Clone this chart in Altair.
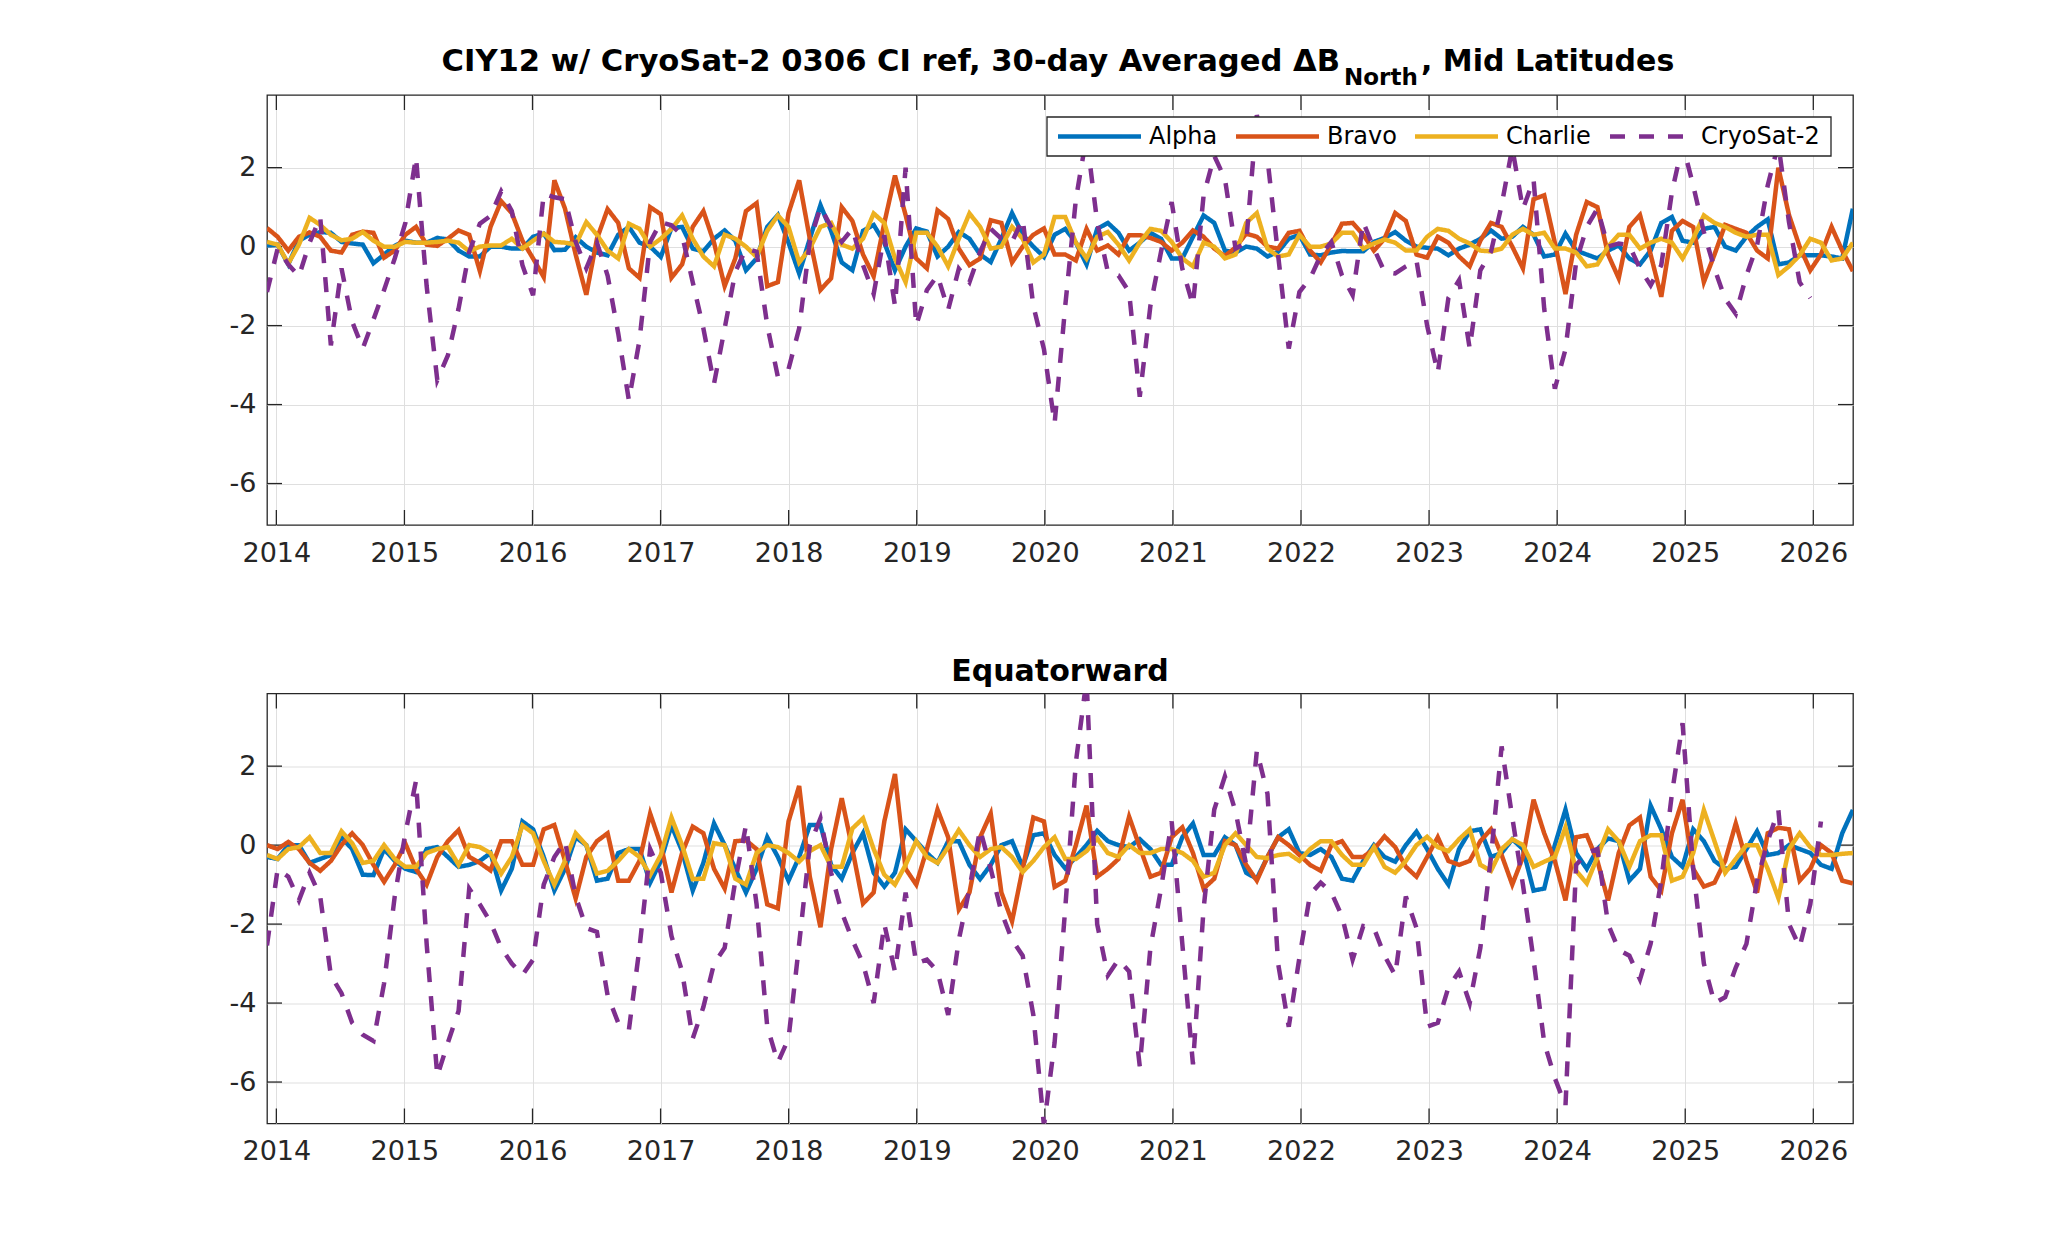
import altair as alt
import pandas as pd

# ---------------- data ----------------
T0 = 2013.927          # first 30-day bin (decimal year)
DT = 0.0831            # bin spacing in years
SERIES = ["Alpha", "Bravo", "Charlie", "CryoSat-2"]
COLORS = ["#0072BD", "#D95319", "#EDB120", "#7E2F8E"]
YEAR_TICKS = list(range(2014, 2027))
Y_TICKS = [-6, -4, -2, 0, 2]

TOP_ALPHA = [0.03, 0.05, -0.45, 0.15, 0.3, 0.37, 0.35, 0.12, 0.08, 0.05,
             -0.42, -0.2, 0.02, 0.15, 0.1, 0.1, 0.22, 0.18, -0.1, -0.25,
             -0.25, 0.0, 0.0, -0.05, -0.05, 0.25, 0.33, -0.09, -0.08, 0.24,
             0.0, -0.15, -0.22, 0.3, 0.5, 0.1, 0.0, -0.26, 0.47, 0.5,
             -0.05, -0.12, 0.2, 0.41, 0.15, -0.6, -0.3, 0.5, 0.8, 0.1,
             -0.68, 0.2, 1.05, 0.4, -0.4, -0.6, 0.4, 0.55, 0.1, -0.6,
             0.0, 0.46, 0.38, -0.25, 0.0, 0.37, 0.2, -0.2, -0.39, 0.2,
             0.85, 0.3, 0.0, -0.26, 0.3, 0.45, 0.1, -0.45, 0.45, 0.6,
             0.35, -0.1, 0.1, 0.35, 0.2, -0.3, -0.3, 0.25, 0.79, 0.6,
             -0.1, -0.15, 0.0, -0.05, -0.25, -0.13, 0.2, 0.3, -0.2, -0.22,
             -0.15, -0.11, -0.12, -0.12, 0.12, 0.22, 0.37, 0.15, 0.0, -0.03,
             -0.05, -0.22, -0.05, 0.05, 0.2, 0.41, 0.2, 0.25, 0.5, 0.3,
             -0.25, -0.2, 0.33, -0.1, -0.2, -0.3, -0.1, 0.03, -0.3, -0.45,
             -0.1, 0.6, 0.75, 0.15, 0.1, 0.45, 0.5, 0.0, -0.1, 0.25,
             0.5, 0.69, -0.45, -0.4, -0.22, -0.22, -0.22, -0.25, -0.3, 0.96]

TOP_BRAVO = [0.47, 0.25, -0.1, 0.25, 0.36, 0.25, -0.1, -0.15, 0.3, 0.38,
             0.35, -0.28, -0.1, 0.3, 0.5, 0.05, 0.02, 0.2, 0.41, 0.3,
             -0.62, 0.5, 1.15, 0.85, 0.15, -0.3, -0.77, 1.68, 0.96, -0.2,
             -1.22, 0.2, 0.95, 0.6, -0.55, -0.79, 1.0, 0.82, -0.79, -0.45,
             0.5, 0.9, 0.1, -1.0, -0.3, 0.9, 1.1, -1.0, -0.9, 0.85,
             1.68, 0.2, -1.1, -0.8, 1.0, 0.65, -0.2, -0.75, 0.6, 1.8,
             0.8, -0.3, -0.55, 0.92, 0.7, -0.05, -0.47, -0.3, 0.67, 0.6,
             -0.4, 0.0, 0.3, 0.46, -0.2, -0.2, -0.35, 0.45, -0.1, 0.03,
             -0.2, 0.29, 0.29, 0.22, 0.12, -0.1, 0.1, 0.41, 0.25, -0.05,
             -0.24, -0.02, 0.33, 0.25, 0.0, -0.05, 0.35, 0.4, -0.1, -0.4,
             0.05, 0.58, 0.6, 0.3, -0.1, 0.2, 0.85, 0.65, -0.2, -0.28,
             0.25, 0.1, -0.25, -0.5, 0.15, 0.6, 0.5, 0.0, -0.55, 1.2,
             1.3, 0.1, -1.2, 0.3, 1.13, 1.0, -0.2, -0.8, 0.5, 0.8,
             -0.2, -1.27, 0.4, 0.65, 0.5, -0.9, -0.2, 0.55, 0.45, 0.35,
             -0.1, -0.3, 2.0, 0.8, 0.0, -0.6, -0.2, 0.5, -0.1, -0.62]

TOP_CHARLIE = [0.12, 0.05, -0.43, 0.05, 0.73, 0.55, 0.3, 0.16, 0.2, 0.37,
               0.15, 0.0, 0.0, 0.12, 0.1, 0.1, 0.12, 0.15, 0.1, -0.12,
               0.0, 0.03, 0.03, 0.2, -0.05, 0.15, 0.33, 0.12, 0.1, 0.05,
               0.62, 0.3, -0.1, -0.3, 0.58, 0.45, 0.0, 0.2, 0.45, 0.79,
               0.2, -0.25, -0.5, 0.3, 0.2, 0.0, -0.26, 0.4, 0.79, 0.5,
               -0.4, -0.05, 0.5, 0.6, 0.05, -0.05, 0.2, 0.84, 0.6, -0.3,
               -0.9, 0.35, 0.35, 0.0, -0.5, 0.2, 0.84, 0.5, -0.05, 0.0,
               0.5, 0.2, -0.4, -0.2, 0.75, 0.75, 0.1, -0.3, 0.25, 0.37,
               0.05, -0.35, 0.1, 0.45, 0.4, 0.12, -0.3, -0.5, 0.1, 0.0,
               -0.3, -0.2, 0.6, 0.85, -0.05, -0.25, -0.2, 0.3, 0.0, 0.0,
               0.08, 0.35, 0.35, -0.05, 0.08, 0.18, 0.1, -0.1, -0.1, 0.25,
               0.45, 0.4, 0.2, 0.08, -0.1, -0.12, -0.05, 0.3, 0.45, 0.3,
               0.35, -0.05, -0.05, -0.15, -0.5, -0.45, 0.0, 0.3, 0.3, -0.05,
               0.1, 0.2, 0.1, -0.3, 0.2, 0.79, 0.6, 0.5, 0.35, 0.25,
               0.3, 0.3, -0.72, -0.5, -0.22, 0.2, 0.1, -0.35, -0.3, 0.1]

TOP_CRYO = [-1.15, -0.05, -0.45, -0.75, 0.1, 0.75, -2.5, -0.55, -1.9, -2.58,
            -1.85, -1.1, -0.3, 0.6, 2.27, -1.0, -3.38, -2.75, -1.57, -0.13,
            0.58, 0.78, 1.4, 0.9, -0.47, -1.23, 1.34, 1.25, 1.2, 0.12,
            -0.55, 0.1, -0.73, -2.2, -3.89, -2.37, 0.12, 0.62, 0.54, 0.29,
            -0.9, -2.07, -3.47, -2.07, -0.64, -0.05, -0.13, -1.99, -3.3, -3.1,
            -2.07, 0.12, 1.0, 0.5, 0.12, 0.45, -0.47, -1.2, 0.29, -1.5,
            2.0, -2.0, -1.1, -0.73, -1.6, -0.56, -0.9, -0.13, 0.45, 0.2,
            0.12, 0.7, -1.5, -2.6, -4.48, -1.5, 1.2, 2.8, 0.62, -0.64,
            -0.73, -1.15, -3.8, -1.5, -0.13, 1.13, -0.56, -1.48, 1.3, 2.3,
            1.72, -0.05, 0.1, 3.33, 2.23, -0.22, -2.58, -1.15, -0.81, -0.22,
            0.12, -0.73, -1.23, 0.62, -0.05, -0.64, -0.68, -0.5, -0.35, -2.0,
            -3.2, -1.3, -0.85, -2.58, -0.6, -0.13, 1.05, 2.5, 0.95, 1.7,
            -1.57, -3.6, -2.6, -0.39, 0.5, 0.96, 0.0, 0.08, 0.03, -0.56,
            -0.98, -0.47, 1.38, 2.6, 1.55, 0.37, -0.56, -1.32, -1.7, -0.73,
            0.03, 1.55, 2.6, 0.62, -0.9, -1.3]

BOT_ALPHA = [-0.3, -0.35, 0.0, 0.0, -0.45, -0.35, -0.25, 0.2, -0.1, -0.75,
             -0.76, -0.1, -0.4, -0.6, -0.68, -0.1, -0.05, -0.3, -0.55, -0.5,
             -0.4, -0.2, -1.15, -0.6, 0.6, 0.4, -0.3, -1.15, -0.6, 0.2,
             0.0, -0.9, -0.85, -0.2, -0.1, -0.1, -0.95, -0.4, 0.5, -0.15,
             -1.15, -0.45, 0.55, 0.0, -0.6, -1.2, -0.6, 0.2, -0.3, -0.9,
             -0.3, 0.51, 0.51, -0.5, -0.85, -0.2, 0.3, -0.7, -1.05, -0.7,
             0.4, 0.1, -0.2, -0.45, 0.1, 0.1, -0.5, -0.86, -0.5, 0.0,
             0.1, -0.55, 0.25, 0.3, -0.25, -0.59, -0.3, 0.0, 0.36, 0.1,
             0.0, -0.05, 0.15, -0.1, -0.5, -0.5, 0.2, 0.55, -0.25, -0.25,
             0.2, 0.0, -0.7, -0.85, -0.3, 0.2, 0.4, -0.2, -0.25, -0.1,
             -0.3, -0.85, -0.9, -0.4, 0.0, -0.3, -0.42, 0.0, 0.34, -0.1,
             -0.6, -1.0, -0.1, 0.35, 0.4, -0.3, -0.2, 0.15, -0.1, -1.15,
             -1.1, 0.0, 0.9, -0.2, -0.6, -0.1, 0.17, 0.1, -0.9, -0.6,
             1.0, 0.4, -0.3, -0.55, 0.4, 0.1, -0.4, -0.6, -0.55, -0.1,
             0.35, -0.25, -0.2, 0.0, -0.1, -0.2, -0.5, -0.6, 0.3, 0.89]

BOT_BRAVO = [0.0, -0.1, 0.08, -0.1, -0.45, -0.65, -0.4, 0.0, 0.3, 0.0,
             -0.5, -0.93, -0.5, 0.04, -0.6, -1.0, -0.3, 0.1, 0.38, -0.3,
             -0.45, -0.64, 0.1, 0.1, -0.5, -0.5, 0.4, 0.51, -0.4, -1.35,
             -0.3, 0.1, 0.3, -0.9, -0.9, -0.4, 0.8, 0.0, -1.2, -0.2,
             0.47, 0.3, -0.6, -1.1, 0.1, 0.12, -0.1, -1.5, -1.6, 0.6,
             1.5, -0.8, -2.08, -0.1, 1.19, -0.1, -1.48, -1.2, 0.6, 1.8,
             -0.6, -1.0, -0.1, 0.9, 0.2, -1.63, -1.2, 0.2, 0.8, -1.2,
             -1.93, -0.6, 0.7, 0.6, -1.06, -0.9, 0.0, 1.0, -0.8, -0.6,
             -0.35, 0.72, -0.05, -0.8, -0.7, 0.2, 0.45, -0.2, -1.1, -0.85,
             0.1, 0.0, -0.5, -0.9, -0.3, 0.2, 0.0, -0.25, -0.5, -0.65,
             0.0, 0.1, -0.3, -0.3, -0.1, 0.22, -0.05, -0.55, -0.8, -0.3,
             0.2, -0.4, -0.5, -0.4, 0.1, 0.4, -0.25, -1.0, -0.3, 1.15,
             0.3, -0.4, -1.4, 0.2, 0.25, -0.4, -1.4, -0.2, 0.5, 0.7,
             -0.8, -1.15, 0.3, 1.15, -0.6, -1.05, -0.95, -0.4, 0.55, -0.4,
             -1.2, 0.3, 0.44, 0.4, -0.9, -0.6, 0.0, -0.2, -0.9, -0.97]

BOT_CHARLIE = [-0.25, -0.35, -0.1, -0.05, 0.2, -0.2, -0.2, 0.35, 0.05, -0.45,
               -0.4, 0.0, -0.35, -0.55, -0.55, -0.2, -0.1, -0.05, -0.5, 0.0,
               -0.05, -0.2, -0.72, -0.3, 0.5, 0.3, -0.4, -1.0, -0.4, 0.3,
               0.0, -0.72, -0.65, -0.4, -0.1, -0.3, -0.76, -0.25, 0.7, 0.0,
               -0.86, -0.85, 0.05, 0.0, -0.85, -1.0, -0.2, 0.0, -0.05, -0.2,
               -0.42, -0.15, 0.0, -0.55, -0.55, 0.42, 0.68, -0.1, -0.75, -1.0,
               -0.5, 0.1, -0.3, -0.45, -0.05, 0.38, 0.0, -0.3, -0.1, -0.05,
               -0.3, -0.68, -0.4, -0.05, 0.2, -0.35, -0.35, -0.15, 0.17, -0.2,
               -0.3, 0.0, -0.2, -0.2, -0.1, -0.1, -0.2, -0.4, -0.8, -0.7,
               0.0, 0.3, 0.0, -0.3, -0.33, -0.25, -0.22, -0.4, -0.1, 0.1,
               0.1, -0.25, -0.5, -0.5, -0.05, -0.55, -0.7, -0.4, 0.0, 0.21,
               -0.05, -0.15, 0.15, 0.4, -0.5, -0.65, -0.1, 0.15, 0.0, -0.55,
               -0.42, -0.3, 0.45, -0.65, -0.97, -0.3, 0.4, 0.1, -0.55, 0.1,
               0.25, 0.25, -0.9, -0.8, -0.2, 0.89, 0.1, -0.7, -0.35, 0.0,
               0.0, -0.6, -1.34, -0.1, 0.3, -0.05, -0.25, -0.25, -0.22, -0.2]

BOT_CRYO = [-2.54, -0.6, -0.8, -1.4, -0.7, -1.3, -3.3, -3.75, -4.5, -4.8,
            -4.96, -3.5, -1.3, 0.3, 1.63, -2.5, -5.85, -5.0, -4.2, -1.1,
            -1.5, -1.95, -2.6, -3.0, -3.29, -2.9, -1.0, -0.3, 0.1, -1.3,
            -2.1, -2.2, -3.8, -4.5, -4.68, -2.6, -0.1, -0.7, -2.3, -3.2,
            -4.9, -4.1, -3.0, -2.6, -0.9, 0.5, -1.5, -4.6, -5.5, -4.9,
            -2.5, 0.0, 0.68, -0.7, -1.7, -2.4, -3.0, -4.0, -2.0, -3.2,
            -1.2, -3.0, -2.9, -3.2, -4.3, -2.4, -1.1, 0.4, -0.6, -1.7,
            -2.4, -2.8, -4.3, -7.1, -5.0, -1.6, 2.1, 4.2, -2.0, -3.3,
            -2.9, -3.2, -5.6, -2.6, -1.1, 0.6, -2.5, -5.55, -1.6, 0.9,
            1.74, 0.85, -0.5, 2.39, 1.3, -3.0, -4.6, -2.85, -1.25, -0.95,
            -1.2, -1.8, -2.9, -2.05, -2.1, -2.8, -3.3, -1.3, -2.1, -4.6,
            -4.5, -3.6, -3.2, -4.0, -2.6, -0.3, 2.5, 0.7, -1.0, -2.9,
            -5.0, -5.9, -6.6, -0.5, -0.2, -0.1, -2.0, -2.65, -2.8, -3.4,
            -2.5, -0.9, 1.3, 3.09, -0.6, -3.0, -4.0, -3.85, -3.1, -2.5,
            -0.9, 0.1, 0.89, -2.0, -2.58, -1.5, 0.6]

# ---------------- layout / style ----------------
W, H = 1586, 430
XDOM = [2013.927, 2026.31]
YDOM = [-7.05, 3.84]
FONT = "DejaVu Sans"
AX = "#262626"
TICK_LEN = 15
LW = 4.5
DASHES = [[1, 0], [1, 0], [1, 0], [15, 14]]

# legend box and entries, in pixels inside the top panel
LEG_BOX = (780, 22, 1564, 61)
LEG_Y = 41.5
LEG_LINE_X = [791, 969, 1148, 1343]
LEG_LINE_LEN = 83
LEG_TEXT_GAP = 8


def long_df(lists):
    rows = []
    for name, vals in zip(SERIES, lists):
        for i, v in enumerate(vals):
            rows.append({"t": T0 + DT * i, "v": v, "series": name})
    return pd.DataFrame(rows)


X = alt.X("t:Q", scale=alt.Scale(domain=XDOM, nice=False, zero=False),
          axis=alt.Axis(values=YEAR_TICKS, format="d", title=None, grid=True,
                        ticks=False, domain=False, labelPadding=15,
                        labelFontSize=27, labelFont=FONT, labelColor=AX,
                        labelFlush=False, labelOverlap=False,
                        gridColor="#dfdfdf", gridWidth=1))
Y = alt.Y("v:Q", scale=alt.Scale(domain=YDOM, nice=False, zero=False),
          axis=alt.Axis(values=Y_TICKS, labelExpr="toString(datum.value)",
                        title=None, grid=True, ticks=False, domain=False,
                        labelPadding=11, labelFontSize=27, labelFont=FONT,
                        labelColor=AX, gridColor="#dfdfdf", gridWidth=1))

xt_df = pd.DataFrame({"t": YEAR_TICKS})
yt_df = pd.DataFrame({"v": Y_TICKS})
one = pd.DataFrame({"k": [0]})


def tick_layers():
    rule = dict(color=AX, strokeWidth=1.3)
    return [
        alt.Chart(xt_df).mark_rule(**rule).encode(x=X, y=alt.value(0), y2=alt.value(TICK_LEN)),
        alt.Chart(xt_df).mark_rule(**rule).encode(x=X, y=alt.value(H), y2=alt.value(H - TICK_LEN)),
        alt.Chart(yt_df).mark_rule(**rule).encode(y=Y, x=alt.value(0), x2=alt.value(TICK_LEN)),
        alt.Chart(yt_df).mark_rule(**rule).encode(y=Y, x=alt.value(W), x2=alt.value(W - TICK_LEN)),
    ]


def series_layers(df):
    color = alt.Color("series:N", scale=alt.Scale(domain=SERIES, range=COLORS),
                      legend=None)
    dash = alt.StrokeDash("series:N", scale=alt.Scale(domain=SERIES, range=DASHES),
                          legend=None)
    out = []
    for s in SERIES:
        out.append(
            alt.Chart(df).transform_filter(alt.datum.series == s)
            .mark_line(strokeWidth=LW, clip=True)
            .encode(x=X, y=Y, color=color, strokeDash=dash)
        )
    return out


def legend_layers():
    x1, y1, x2, y2 = LEG_BOX
    out = [alt.Chart(one).mark_rect(fill="white", stroke=AX, strokeWidth=1.3).encode(
        x=alt.value(x1), x2=alt.value(x2), y=alt.value(y1), y2=alt.value(y2))]
    for s, c, d, lx in zip(SERIES, COLORS, DASHES, LEG_LINE_X):
        out.append(alt.Chart(one).mark_rule(color=c, strokeWidth=LW, strokeDash=d).encode(
            x=alt.value(lx), x2=alt.value(lx + LEG_LINE_LEN), y=alt.value(LEG_Y)))
        out.append(alt.Chart(pd.DataFrame({"s": [s]})).mark_text(
            font=FONT, fontSize=24, color="black", align="left", baseline="middle").encode(
            text="s:N", x=alt.value(lx + LEG_LINE_LEN + LEG_TEXT_GAP), y=alt.value(LEG_Y)))
    return out


top_df = long_df([TOP_ALPHA, TOP_BRAVO, TOP_CHARLIE, TOP_CRYO])
bot_df = long_df([BOT_ALPHA, BOT_BRAVO, BOT_CHARLIE, BOT_CRYO])

title_main = "CIY12 w/ CryoSat-2 0306 CI ref, 30-day Averaged \u0394B"
title_sub = "North"
title_tail = ", Mid Latitudes"


def text_layer(txt, size, x, y, align):
    return alt.Chart(pd.DataFrame({"s": [txt]})).mark_text(
        font=FONT, fontSize=size, fontWeight="bold", color="black",
        align=align, baseline="alphabetic"
    ).encode(text="s:N", x=alt.value(x), y=alt.value(y))


top = alt.layer(
    *tick_layers(),
    *series_layers(top_df),
    *legend_layers(),
    text_layer(title_main, 30.6, 1073, -24, "right"),
    text_layer(title_sub, 23, 1077, -10, "left"),
    text_layer(title_tail, 30, 1154, -24, "left"),
).properties(width=W, height=H)

bottom = alt.layer(
    *tick_layers(),
    *series_layers(bot_df),
).properties(
    width=W, height=H,
    title=alt.TitleParams("Equatorward", fontSize=30, fontWeight="bold",
                          font=FONT, color="black", offset=-18,
                          baseline="alphabetic", anchor="middle"),
)

chart = alt.vconcat(top, bottom, spacing=88.5).properties(
    padding={"left": 220, "top": 38, "right": 20, "bottom": 20}
).configure(font=FONT).configure_view(stroke=AX, strokeWidth=1.3)

chart.save("out.html", embed_options={"renderer": "svg", "actions": False})
